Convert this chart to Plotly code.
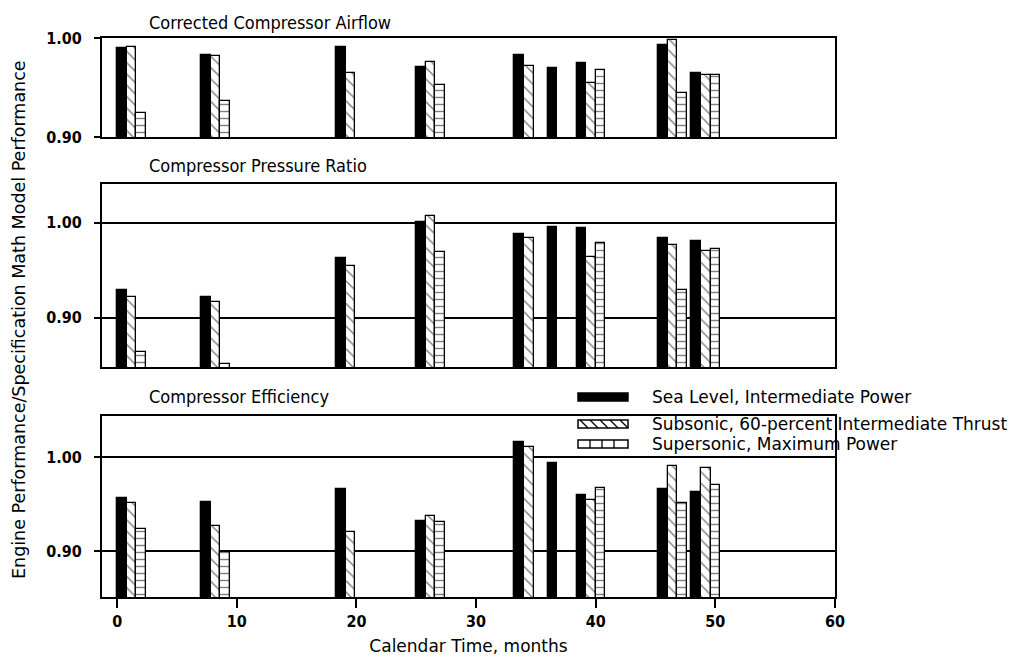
import plotly.graph_objects as go
from plotly.subplots import make_subplots

# ---- data ----
months = [0, 7, 18.3, 25, 33.2, 36, 38.4, 45.2, 48]
series_names = ["Sea Level, Intermediate Power",
                "Subsonic, 60-percent Intermediate Thrust",
                "Supersonic, Maximum Power"]
panel_titles = ["Corrected Compressor Airflow",
                "Compressor Pressure Ratio",
                "Compressor Efficiency"]

airflow_sea = [0.990, 0.983, 0.991, 0.971, 0.983, 0.970, 0.975, 0.993, 0.965]
airflow_sub = [0.991, 0.982, 0.965, 0.976, 0.972, None, 0.955, 0.998, 0.963]
airflow_sup = [0.924, 0.936, None, 0.953, None, None, 0.968, 0.944, 0.963]

pressure_sea = [0.929, 0.922, 0.963, 1.001, 0.988, 0.996, 0.995, 0.984, 0.981]
pressure_sub = [0.922, 0.917, 0.955, 1.007, 0.984, None, 0.964, 0.977, 0.970]
pressure_sup = [0.864, 0.851, None, 0.969, None, None, 0.979, 0.929, 0.972]

eff_sea = [0.957, 0.952, 0.966, 0.932, 1.016, 0.994, 0.960, 0.966, 0.963]
eff_sub = [0.951, 0.927, 0.920, 0.937, 1.011, None, 0.954, 0.991, 0.989]
eff_sup = [0.924, 0.899, None, 0.931, None, None, 0.967, 0.951, 0.970]

x_ticks = [0, 10, 20, 30, 40, 50, 60]
y_tickvals = [0.90, 1.00]
y_ticktext = ["0.90", "1.00"]
y_ranges = [[0.90, 1.00], [0.848, 1.041], [0.851, 1.044]]

panels = [
    (airflow_sea, airflow_sub, airflow_sup),
    (pressure_sea, pressure_sub, pressure_sup),
    (eff_sea, eff_sub, eff_sup),
]

# ---- styles ----
BW = 0.8
offsets = [0.0, BW, 2 * BW]
patterns = [
    dict(shape=""),
    dict(shape="\\", fgcolor="black", bgcolor="white", size=8, solidity=0.18, fillmode="overlay"),
    dict(shape="-", fgcolor="black", bgcolor="white", size=7, solidity=0.2, fillmode="overlay"),
]
fills = ["black", "white", "white"]

WIDE = "DejaVu Sans, sans-serif"
COND = "DejaVu Sans Condensed, DejaVu Sans, sans-serif"

# page body has an 8px margin; compensate so the plot lands where the reference has it
SH = 8
W, H = 1016, 665
PX_L, PX_R, PX_T, PX_B = 102, 835, 38, 597      # plot area in screen pixels
L, T = PX_L - SH, PX_T - SH
R = W - (PX_R - SH)
B = H - (PX_B - SH)


def px_x(px):
    return (px - PX_L) / (PX_R - PX_L)


def px_y(py):
    return (PX_B - py) / (PX_B - PX_T)


fig = make_subplots(rows=3, cols=1, shared_xaxes=True)

for r, vals in enumerate(panels, start=1):
    for k, (v, name) in enumerate(zip(vals, series_names)):
        fig.add_trace(go.Bar(
            x=months, y=v, name=name, width=BW, offset=offsets[k],
            marker=dict(color=fills[k], pattern=patterns[k],
                        line=dict(color="black", width=1.3)),
            showlegend=False,
        ), row=r, col=1)

domains = [[px_y(137), 1.0], [px_y(367), px_y(184)], [0.0, px_y(416)]]
for r in range(1, 4):
    yk = "yaxis" if r == 1 else f"yaxis{r}"
    xk = "xaxis" if r == 1 else f"xaxis{r}"
    fig.layout[yk].update(
        domain=domains[r - 1], range=y_ranges[r - 1],
        tickvals=y_tickvals, ticktext=y_ticktext,
        showgrid=True, gridcolor="black", gridwidth=1.5,
        showline=True, mirror=True, linecolor="black", linewidth=2,
        ticks="outside", ticklen=6, tickwidth=1.5, tickcolor="black",
        ticklabelstandoff=9,
        zeroline=False,
        tickfont=dict(family=COND, size=16, color="black", weight="bold"),
    )
    fig.layout[xk].update(
        range=[-1.27, 60], showgrid=False, zeroline=False,
        showline=True, mirror=True, linecolor="black", linewidth=2,
    )

fig.layout.xaxis3.update(
    tickvals=x_ticks, ticks="outside", ticklen=9, tickwidth=1.5, tickcolor="black",
    tickfont=dict(family=COND, size=16, color="black", weight="bold"),
    title=dict(text="Calendar Time, months", font=dict(family=WIDE, size=17, color="black"),
               standoff=10),
)
fig.layout.xaxis.update(ticks="", showticklabels=False)
fig.layout.xaxis2.update(ticks="", showticklabels=False)

# panel titles
title_px = [22, 166, 396]
for t, py in zip(panel_titles, title_px):
    fig.add_annotation(text=t, xref="paper", yref="paper",
                       x=px_x(147), y=px_y(py),
                       xanchor="left", yanchor="middle", showarrow=False,
                       font=dict(family=COND, size=18, color="black"))

fig.add_annotation(text="Engine Performance/Specification Math Model Performance",
                   xref="paper", yref="paper", x=px_x(19), y=px_y(320),
                   textangle=-90,
                   xanchor="center", yanchor="middle", showarrow=False,
                   font=dict(family=WIDE, size=17.5, color="black"))

# ---- hand-drawn style legend (swatch + label) ----
leg_rows = [397, 424, 444]
sw_x0, sw_x1, sw_h = 578, 628, 8
shapes = []
for k, (name, py) in enumerate(zip(series_names, leg_rows)):
    y0, y1 = py - sw_h / 2, py + sw_h / 2
    shapes.append(dict(type="rect", xref="paper", yref="paper",
                       x0=px_x(sw_x0), x1=px_x(sw_x1), y0=px_y(y1), y1=px_y(y0),
                       line=dict(color="black", width=1.5),
                       fillcolor="black" if k == 0 else "white"))
    if k == 1:
        for sx in range(sw_x0 + 2, sw_x1 - 6, 10):
            shapes.append(dict(type="line", xref="paper", yref="paper",
                               x0=px_x(sx), y0=px_y(y0), x1=px_x(sx + 8), y1=px_y(y1),
                               line=dict(color="black", width=1.3)))
    if k == 2:
        for sx in range(sw_x0 + 12, sw_x1 - 4, 12):
            shapes.append(dict(type="line", xref="paper", yref="paper",
                               x0=px_x(sx), y0=px_y(y0), x1=px_x(sx), y1=px_y(y1),
                               line=dict(color="black", width=1.3)))
    fig.add_annotation(text=name, xref="paper", yref="paper",
                       x=px_x(650), y=px_y(py), xanchor="left", yanchor="middle",
                       showarrow=False,
                       font=dict(family=WIDE, size=17, color="black"))

fig.update_layout(
    width=W, height=H,
    margin=dict(l=L, r=R, t=T, b=B),
    paper_bgcolor="white", plot_bgcolor="white",
    barmode="overlay", bargap=0,
    showlegend=False,
    shapes=shapes,
)

fig.write_html("out.html")
